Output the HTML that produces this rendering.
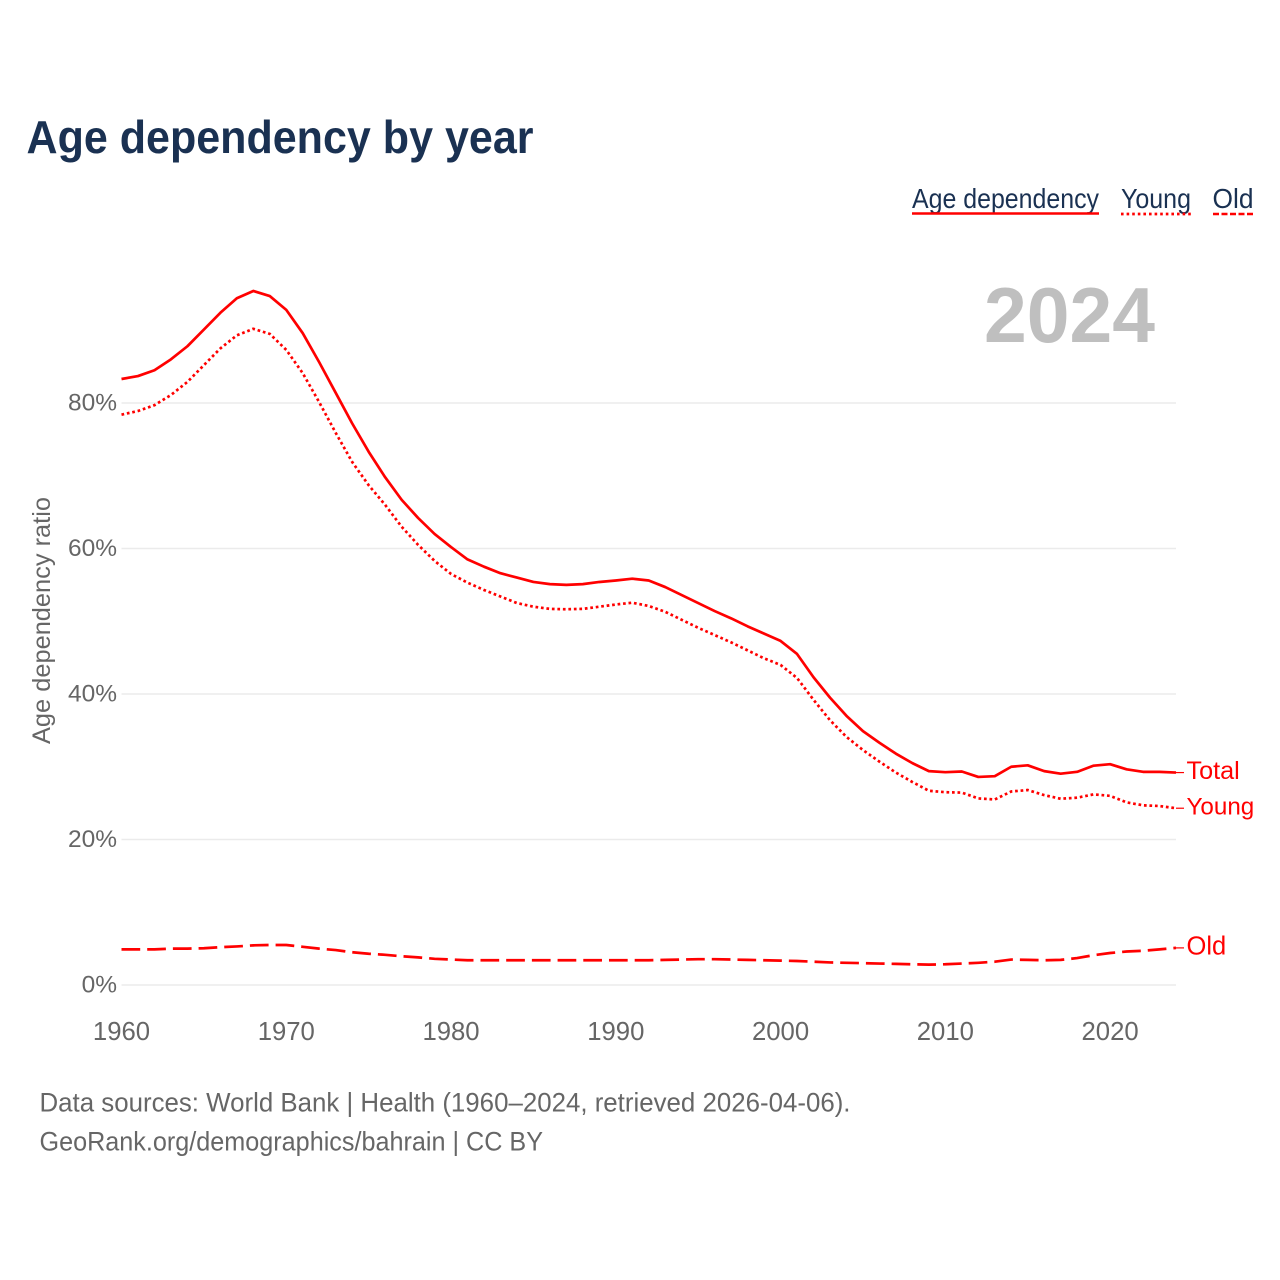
<!DOCTYPE html>
<html lang="en">
<head>
<meta charset="utf-8">
<title>Age dependency by year</title>
<style>
html,body{margin:0;padding:0;background:#fff;width:1280px;height:1280px;overflow:hidden}
svg{display:block}
text{font-family:"Liberation Sans",sans-serif}
</style>
</head>
<body>
<svg id="chart" xmlns="http://www.w3.org/2000/svg" width="1280" height="1280" viewBox="0 0 1280 1280">
  <text x="26.5" y="153" font-size="46" font-weight="700" fill="#1a3152" textLength="507" lengthAdjust="spacingAndGlyphs">Age dependency by year</text>

  <g font-size="28" fill="#1a3152">
    <text x="912" y="208" textLength="187" lengthAdjust="spacingAndGlyphs">Age dependency</text>
    <line x1="912" x2="1099" y1="213.5" y2="213.5" stroke="#ff0000" stroke-width="2.4"/>
    <text x="1121" y="208" textLength="70" lengthAdjust="spacingAndGlyphs">Young</text>
    <line x1="1121" x2="1191" y1="214" y2="214" stroke="#ff0000" stroke-width="2.8" stroke-dasharray="2.6 3"/>
    <text x="1212.5" y="208" textLength="41" lengthAdjust="spacingAndGlyphs">Old</text>
    <line x1="1213" x2="1254" y1="214" y2="214" stroke="#ff0000" stroke-width="2.6" stroke-dasharray="6 2.5"/>
  </g>

  <text x="984" y="342" font-size="78" font-weight="700" fill="#bfbfbf" textLength="171" lengthAdjust="spacingAndGlyphs">2024</text>

  <g id="grid"></g>
  <g id="yticks"></g>
  <g id="xticks"></g>
  <g id="series"></g>

  <text transform="translate(50,620.5) rotate(-90)" text-anchor="middle" font-size="25" fill="#666666" textLength="247" lengthAdjust="spacingAndGlyphs">Age dependency ratio</text>

  <text x="39.5" y="1111.5" font-size="27" fill="#666666" textLength="811" lengthAdjust="spacingAndGlyphs">Data sources: World Bank | Health (1960–2024, retrieved 2026-04-06).</text>
  <text x="39.5" y="1150.5" font-size="27" fill="#666666" textLength="503.5" lengthAdjust="spacingAndGlyphs">GeoRank.org/demographics/bahrain | CC BY</text>
</svg>

<script>
const startYear = 1960;
const totalValues = [83.3,83.7,84.5,86.0,87.8,90.1,92.4,94.4,95.4,94.7,92.8,89.6,85.6,81.4,77.2,73.3,69.8,66.7,64.2,62.0,60.2,58.5,57.5,56.6,56.0,55.4,55.1,55.0,55.1,55.4,55.6,55.85,55.6,54.7,53.6,52.5,51.4,50.4,49.3,48.3,47.3,45.5,42.3,39.5,37.0,34.9,33.3,31.8,30.5,29.4,29.25,29.35,28.6,28.7,30.0,30.2,29.4,29.05,29.3,30.15,30.35,29.65,29.3,29.3,29.2];
const youngValues = [78.4,78.9,79.7,81.1,82.9,85.2,87.5,89.3,90.2,89.5,87.3,84.1,80.1,75.9,71.9,68.7,66.0,63.0,60.5,58.3,56.5,55.3,54.3,53.4,52.5,52.0,51.7,51.65,51.7,52.0,52.3,52.55,52.1,51.3,50.2,49.1,48.1,47.1,46.0,44.9,44.0,42.2,39.2,36.4,34.1,32.3,30.7,29.2,27.9,26.7,26.5,26.45,25.65,25.5,26.6,26.8,26.1,25.6,25.75,26.2,26.0,25.1,24.7,24.6,24.3];
const oldValues = [4.9,4.9,4.9,5.0,5.0,5.05,5.2,5.3,5.45,5.5,5.5,5.25,5.0,4.8,4.5,4.3,4.15,3.95,3.8,3.6,3.5,3.4,3.4,3.4,3.4,3.4,3.4,3.4,3.4,3.4,3.4,3.4,3.4,3.45,3.5,3.55,3.55,3.5,3.45,3.4,3.35,3.3,3.2,3.1,3.05,3.0,2.95,2.9,2.85,2.8,2.85,2.95,3.05,3.2,3.5,3.45,3.4,3.45,3.7,4.1,4.4,4.6,4.7,4.9,5.1];
const yTickValues = [0,20,40,60,80];
const yTickLabels = ["0%","20%","40%","60%","80%"];
const xTickValues = [1960,1970,1980,1990,2000,2010,2020];

const NS = "http://www.w3.org/2000/svg";
const xScale = year => 121.5 + (year - 1960) * (1176 - 121.5) / 64;
const yScale = value => 985 - value * (985 - 403) / 80;

function make(tag, parent, attrs, text) {
  const el = document.createElementNS(NS, tag);
  for (const k in attrs) el.setAttribute(k, attrs[k]);
  if (text !== undefined) el.textContent = text;
  parent.appendChild(el);
  return el;
}

const gridGroup = document.getElementById("grid");
const yTickGroup = document.getElementById("yticks");
yTickValues.forEach((v, i) => {
  const line = make("line", gridGroup, {x1: xScale(1960), x2: xScale(2024), y1: yScale(v), y2: yScale(v), stroke: "#ebebeb", "stroke-width": 1.6});
  
  
  const label = make("text", yTickGroup, {x: 117, y: yScale(v) + 7.5, "text-anchor": "end", "font-size": 24.5, fill: "#666666"}, yTickLabels[i]);
  
  
});

const xTickGroup = document.getElementById("xticks");
xTickValues.forEach(year => {
  const label = make("text", xTickGroup, {x: xScale(year), y: 1040, "text-anchor": "middle", "font-size": 25.7, fill: "#666666"}, String(year));
  
  
});

const seriesGroup = document.getElementById("series");
function drawSeries(values, dash, labelText, labelFontSize, lineName, labelName) {
  const pts = values.map((v, i) => xScale(startYear + i).toFixed(2) + "," + yScale(v).toFixed(2)).join(" ");
  const attrs = {points: pts, fill: "none", stroke: "#ff0000", "stroke-width": 2.7, "stroke-linejoin": "round"};
  if (dash) attrs["stroke-dasharray"] = dash;
  const line = make("polyline", seriesGroup, attrs);
  
  
  const lastY = yScale(values[values.length - 1]);
  const leader = make("line", seriesGroup, {x1: xScale(2024), x2: 1184, y1: lastY, y2: lastY, stroke: "#ff0000", "stroke-width": 1.2});
  
  
  const label = make("text", seriesGroup, {x: 1186.5, y: lastY + 6.5, "font-size": labelFontSize, fill: "#ff0000"}, labelText);
  
  
}
drawSeries(totalValues, null, "Total", 25.2, "total-line", "total-label");
drawSeries(youngValues, "2.7 2.8", "Young", 24.2, "young-line", "young-label");
drawSeries(oldValues, "18.7 7", "Old", 25.5, "old-line", "old-label");
</script>
</body>
</html>
